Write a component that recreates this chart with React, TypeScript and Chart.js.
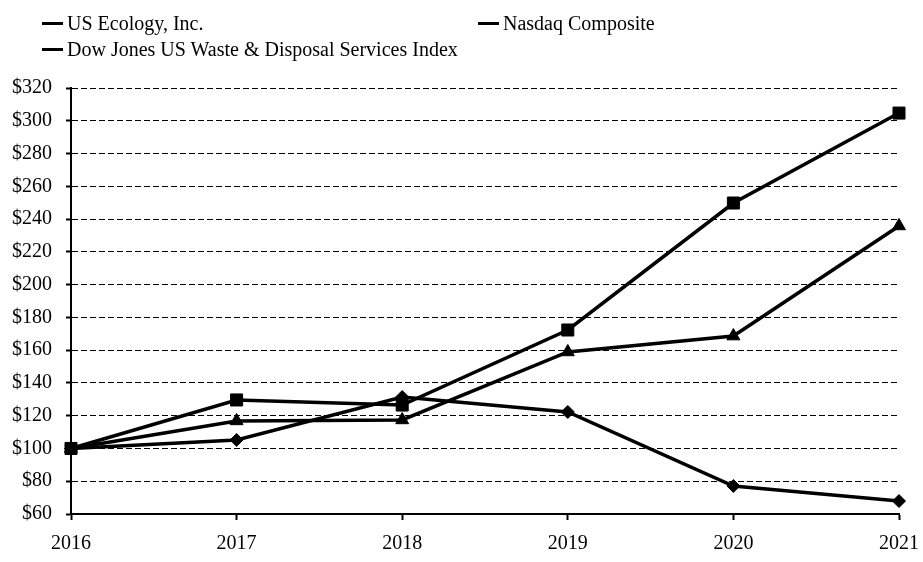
import React, { useEffect, useRef } from "react";
import { Chart, registerables } from "chart.js";

Chart.register(...registerables);

const years = ["2016", "2017", "2018", "2019", "2020", "2021"];
const usEcology = [100, 105.2, 131.4, 122.3, 77.1, 67.9];
const nasdaq = [100, 129.6, 126.5, 172.3, 249.8, 304.7];
const djWaste = [100, 116.8, 117.4, 158.9, 168.6, 235.8];
const seriesNames = [
  "US Ecology, Inc.",
  "Nasdaq Composite",
  "Dow Jones US Waste & Disposal Services Index",
];
const yMin = 60;
const yMax = 320;
const yStep = 20;

const FONT = "'Liberation Serif', 'Times New Roman', serif";

export default function App() {
  const ref = useRef<HTMLCanvasElement | null>(null);

  useEffect(() => {
    if (!ref.current) return;
    const chart = new Chart(ref.current, {
      type: "line",
      data: {
        labels: years,
        datasets: [
          {
            label: seriesNames[0],
            data: usEcology,
            borderColor: "#000",
            backgroundColor: "#000",
            borderWidth: 3.5,
            pointStyle: "rectRot",
            pointRadius: 6.5,
            pointBorderWidth: 1,
            tension: 0,
            clip: false,
          },
          {
            label: seriesNames[1],
            data: nasdaq,
            borderColor: "#000",
            backgroundColor: "#000",
            borderWidth: 3.5,
            pointStyle: "rect",
            pointRadius: 8.5,
            pointBorderWidth: 1,
            tension: 0,
            clip: false,
          },
          {
            label: seriesNames[2],
            data: djWaste,
            borderColor: "#000",
            backgroundColor: "#000",
            borderWidth: 3.5,
            pointStyle: "triangle",
            pointRadius: 7.5,
            pointBorderWidth: 1,
            tension: 0,
            clip: false,
          },
        ],
      },
      options: {
        animation: false,
        responsive: false,
        devicePixelRatio: 1,
        layout: { padding: { top: 88, right: 24, bottom: 0, left: 0 } },
        plugins: {
          legend: { display: false },
          tooltip: { enabled: false },
        },
        scales: {
          x: {
            type: "category",
            offset: false,
            grid: {
              display: true,
              drawOnChartArea: false,
              drawTicks: true,
              tickLength: 6,
              tickColor: "#000",
              tickWidth: 2,
              color: "#000",
            },
            border: { display: true, color: "#000", width: 2 },
            ticks: {
              color: "#000",
              font: { family: FONT, size: 20 },
              padding: 12,
              maxRotation: 0,
              autoSkip: false,
            },
            afterFit: (s: any) => {
              s.height = 48;
              s.paddingLeft = 0;
              s.paddingRight = 0;
            },
          },
          y: {
            min: yMin,
            max: yMax,
            grid: {
              color: "#000",
              lineWidth: 1,
              drawTicks: true,
              tickLength: 5,
              tickColor: "#000",
              tickWidth: 2,
            },
            border: { display: true, color: "#000", width: 2, dash: [6, 3] },
            ticks: {
              stepSize: yStep,
              color: "#000",
              font: { family: FONT, size: 20 },
              padding: 14,
              callback: (v: any) => "$" + v,
            },
            afterFit: (s: any) => {
              s.width = 71;
              s.paddingTop = 0;
              s.paddingBottom = 0;
            },
          },
        },
      },
    });
    return () => chart.destroy();
  }, []);

  const legendItem = (text: string, left: number, top: number) => (
    <div
      key={text}
      style={{
        position: "absolute",
        left,
        top,
        display: "flex",
        alignItems: "center",
        fontFamily: FONT,
        fontSize: 20,
        color: "#000",
        whiteSpace: "nowrap",
        lineHeight: "22px",
      }}
    >
      <span
        style={{
          display: "inline-block",
          width: 21,
          height: 3,
          background: "#000",
          marginRight: 4,
        }}
      />
      <span>{text}</span>
    </div>
  );

  return (
    <div
      style={{
        position: "fixed",
        left: 0,
        top: 0,
        width: 923,
        height: 562,
        background: "#fff",
      }}
    >
      <canvas
        ref={ref}
        width={923}
        height={562}
        style={{ position: "absolute", left: 0, top: 0, width: 923, height: 562 }}
      />
      {legendItem(seriesNames[0], 42, 12)}
      {legendItem(seriesNames[1], 478, 12)}
      {legendItem(seriesNames[2], 42, 38)}
    </div>
  );
}
